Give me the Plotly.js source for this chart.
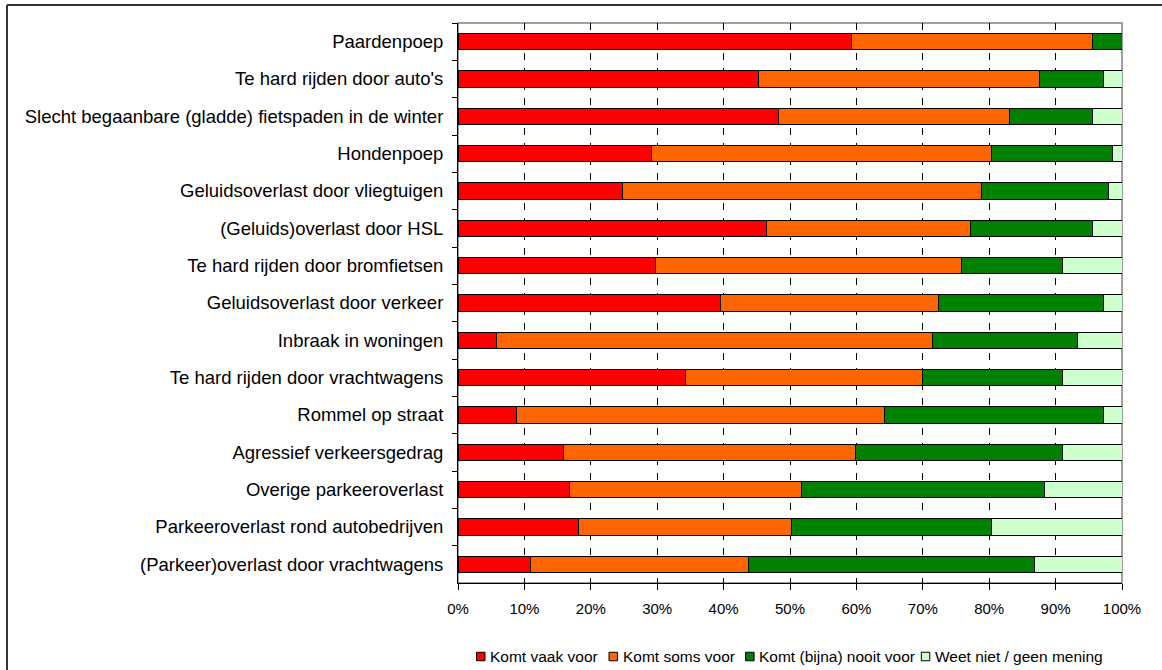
<!DOCTYPE html>
<html>
<head>
<meta charset="utf-8">
<script src="https://cdn.plot.ly/plotly-3.0.1.min.js"></script>
<style>html,body{margin:0;padding:0;background:#fff;overflow:hidden;}#chart{width:1162px;height:670px;overflow:hidden;}</style>
</head>
<body>
<div id="chart"></div>
<script>
const categories = [
  "Paardenpoep",
  "Te hard rijden door auto's",
  "Slecht begaanbare (gladde) fietspaden in de winter",
  "Hondenpoep",
  "Geluidsoverlast door vliegtuigen",
  "(Geluids)overlast door HSL",
  "Te hard rijden door bromfietsen",
  "Geluidsoverlast door verkeer",
  "Inbraak in woningen",
  "Te hard rijden door vrachtwagens",
  "Rommel op straat",
  "Agressief verkeersgedrag",
  "Overige parkeeroverlast",
  "Parkeeroverlast rond autobedrijven",
  "(Parkeer)overlast door vrachtwagens"
];
const vaak   = [59.2, 45.3, 48.2, 29.1, 24.8, 46.5, 29.8, 39.5, 5.8, 34.3, 8.8, 15.9, 16.8, 18.1, 10.9];
const soms   = [36.4, 42.3, 34.9, 51.2, 54.0, 30.7, 46.0, 32.8, 65.6, 35.6, 55.5, 43.9, 35.0, 32.2, 32.8];
const nooit  = [4.4, 9.6, 12.5, 18.2, 19.1, 18.4, 15.3, 24.9, 21.9, 21.2, 32.9, 31.3, 36.5, 30.0, 43.1];
const weetniet = [0.0, 2.8, 4.4, 1.5, 2.1, 4.4, 8.9, 2.8, 6.7, 8.9, 2.8, 8.9, 11.7, 19.7, 13.2];
const seriesNames = ["Komt vaak voor", "Komt soms voor", "Komt (bijna) nooit voor", "Weet niet / geen mening"];
const seriesColors = ["#FF0000", "#FF6600", "#008000", "#CCFFCC"];
const xTickVals = [0, 10, 20, 30, 40, 50, 60, 70, 80, 90, 100];
const xTickText = ["0%", "10%", "20%", "30%", "40%", "50%", "60%", "70%", "80%", "90%", "100%"];

const allSeries = [vaak, soms, nooit, weetniet];
const traces = allSeries.map((vals, i) => ({
  type: 'bar',
  orientation: 'h',
  name: seriesNames[i],
  x: vals,
  y: categories,
  marker: {color: seriesColors[i], line: {color: '#000', width: 1}},
  hoverinfo: 'x+name',
  showlegend: false
}));

const W = 1162, H = 670;
const L = 458, R = W - 1122, T = 23, B = H - 583;
const pw = W - L - R, ph = H - T - B;
function px(x){ return (x - L) / pw; }
function py(y){ return (H - B - y) / ph; }

// custom legend (pixel layout of the reference legend)
const legendLeft = [476.5, 609, 745.6, 921.3];
const legendY = 656.5, sq = 8.5;
const legendShapes = [], legendAnn = [];
seriesNames.forEach((nm, i) => {
  const x0 = legendLeft[i];
  legendShapes.push({type: 'rect', xref: 'paper', yref: 'paper',
    x0: px(x0), x1: px(x0 + sq), y0: py(legendY + sq / 2), y1: py(legendY - sq / 2),
    fillcolor: seriesColors[i], line: {color: '#000', width: 1}});
  legendAnn.push({xref: 'paper', yref: 'paper', x: px(x0 + sq + 3), y: py(legendY),
    xanchor: 'left', yanchor: 'middle', text: nm, showarrow: false,
    font: {size: 15.5, color: '#000'}});
});

const layout = {
  width: W, height: H,
  margin: {l: L, r: R, t: T, b: B, pad: 0, autoexpand: false},
  barmode: 'stack',
  bargap: 0.57,
  paper_bgcolor: '#fff',
  plot_bgcolor: '#fff',
  font: {family: 'Liberation Sans, Arial, sans-serif', color: '#000', size: 15},
  showlegend: false,
  xaxis: {
    range: [0, 100],
    tickvals: xTickVals, ticktext: xTickText,
    ticks: 'outside', ticklen: 6, tickcolor: '#000', tickwidth: 1,
    showline: true, linecolor: '#000', linewidth: 1,
    showgrid: true, gridcolor: '#000', gridwidth: 1, griddash: '7px,8px',
    zeroline: false,
    tickfont: {size: 15},
    ticklabelstandoff: 6,
    automargin: false,
    fixedrange: true
  },
  yaxis: {
    type: 'category',
    categoryorder: 'array', categoryarray: categories,
    autorange: 'reversed',
    ticks: 'outside', ticklen: 5, tickcolor: '#000', tickson: 'boundaries',
    showline: true, linecolor: '#000', linewidth: 1,
    showgrid: false, zeroline: false,
    tickfont: {size: 18.5},
    ticklabelstandoff: 10,
    automargin: false,
    fixedrange: true
  },
  annotations: legendAnn,
  shapes: [
    {type: 'rect', xref: 'paper', yref: 'paper', x0: 0, x1: 1, y0: 0, y1: 1,
     line: {color: '#808080', width: 1.5}, layer: 'below'},
    {type: 'line', xref: 'paper', yref: 'paper', x0: px(7), x1: px(1200), y0: py(5), y1: py(5),
     line: {color: '#333', width: 2}, layer: 'below'},
    {type: 'line', xref: 'paper', yref: 'paper', x0: px(7), x1: px(7), y0: py(5), y1: py(720),
     line: {color: '#333', width: 2}, layer: 'below'}
  ].concat(legendShapes)
};

Plotly.newPlot('chart', traces, layout, {displayModeBar: false, staticPlot: true});
</script>
</body>
</html>
